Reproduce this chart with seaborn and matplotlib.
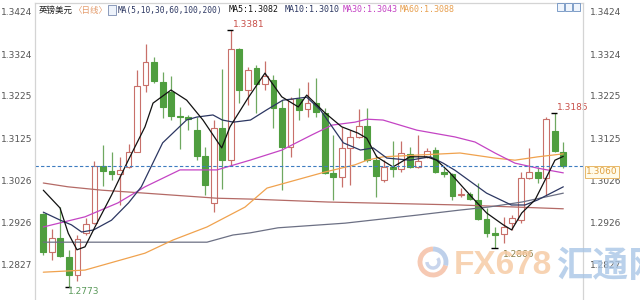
import matplotlib
matplotlib.use("Agg")
import matplotlib.pyplot as plt
import seaborn as sns
import pandas as pd
from matplotlib.patches import Rectangle, Ellipse, Arc

# ---------------- data ----------------
opens = [1.2945, 1.2855, 1.2890, 1.2845, 1.2801, 1.2900, 1.2924, 1.3060, 1.3047, 1.3040,
         1.3058, 1.3093, 1.3251, 1.3305, 1.3259, 1.3235, 1.3178, 1.3176, 1.3144, 1.3083,
         1.2972, 1.3148, 1.3073, 1.3335, 1.3239, 1.3290, 1.3253, 1.3263, 1.3196, 1.3105,
         1.3217, 1.3193, 1.3208, 1.3185, 1.3042, 1.3034, 1.3101, 1.3127, 1.3154, 1.3073,
         1.3026, 1.3058, 1.3051, 1.3088, 1.3058, 1.3080, 1.3097, 1.3046, 1.3040, 1.2991,
         1.2993, 1.2979, 1.2934, 1.2900, 1.2898, 1.2924, 1.2932, 1.3030, 1.3046, 1.3030,
         1.3142, 1.3093]
highs = [1.2949, 1.2910, 1.2962, 1.2860, 1.2896, 1.2936, 1.3072, 1.3109, 1.3093, 1.3080,
         1.3111, 1.3286, 1.3348, 1.3316, 1.3282, 1.3271, 1.3198, 1.3180, 1.3176, 1.3105,
         1.3168, 1.3288, 1.3381, 1.3338, 1.3294, 1.3298, 1.3308, 1.3275, 1.3215, 1.3223,
         1.3243, 1.3259, 1.3267, 1.3196, 1.3133, 1.3152, 1.3144, 1.3193, 1.3196, 1.3085,
         1.3073, 1.3119, 1.3119, 1.3105, 1.3133, 1.3101, 1.3105, 1.3054, 1.3043, 1.3007,
         1.2998, 1.3018, 1.2959, 1.2916, 1.2939, 1.2943, 1.3046, 1.3101, 1.3058, 1.3175,
         1.3185, 1.3117]
lows = [1.2849, 1.2837, 1.2844, 1.2773, 1.2786, 1.2896, 1.2922, 1.3013, 1.3026, 1.2967,
        1.3054, 1.3092, 1.3235, 1.3255, 1.3172, 1.3168, 1.3099, 1.3144, 1.3073, 1.2991,
        1.2951, 1.3004, 1.3062, 1.3208, 1.3204, 1.3184, 1.3239, 1.3148, 1.3002, 1.3081,
        1.3168, 1.3176, 1.3176, 1.3040, 1.2979, 1.3010, 1.3014, 1.3125, 1.3069, 1.2987,
        1.3022, 1.3034, 1.3046, 1.3054, 1.3054, 1.3077, 1.3042, 1.3034, 1.2979, 1.2987,
        1.2979, 1.2931, 1.2892, 1.2866, 1.2876, 1.2908, 1.2925, 1.3028, 1.3018, 1.2991,
        1.3093, 1.3054]
closes = [1.2855, 1.2890, 1.2846, 1.2801, 1.2886, 1.2921, 1.3060, 1.3048, 1.3040, 1.3050,
          1.3093, 1.3249, 1.3305, 1.3260, 1.3200, 1.3178, 1.3175, 1.3170, 1.3083, 1.3014,
          1.3148, 1.3073, 1.3335, 1.3239, 1.3286, 1.3253, 1.3271, 1.3196, 1.3105, 1.3217,
          1.3192, 1.3208, 1.3186, 1.3043, 1.3034, 1.3101, 1.3127, 1.3154, 1.3073, 1.3036,
          1.3058, 1.3051, 1.3089, 1.3058, 1.3072, 1.3095, 1.3046, 1.3040, 1.2988, 1.2993,
          1.2980, 1.2935, 1.2901, 1.2896, 1.2914, 1.2936, 1.3030, 1.3046, 1.3030, 1.3170,
          1.3095, 1.3060]

ma5_x = [0, 1.96, 2.93, 3.95, 4.89, 6.06, 8.02, 9.97, 11.93, 12.87, 14.98, 16.82, 18.73,
         19.9, 20.93, 21.9, 24.01, 26.0, 27.97, 29.91, 30.9, 33.04, 35.0, 36.92, 37.94,
         39.11, 41.02, 43.01, 44.97, 46.15, 47.71, 50.25, 52.01, 53.96, 54.94, 56.12,
         57.68, 58.86, 60.02, 61]
ma5_y = [1.3002, 1.2960, 1.2900, 1.2861, 1.2868, 1.2915, 1.2991, 1.3073, 1.3152, 1.3208,
         1.3239, 1.3215, 1.3168, 1.3133, 1.3102, 1.3152, 1.3220, 1.3279, 1.3223, 1.3199,
         1.3227, 1.3185, 1.3152, 1.3137, 1.3125, 1.3081, 1.3057, 1.3081, 1.3081, 1.3073,
         1.3043, 1.2986, 1.2948, 1.2920, 1.2908, 1.2948, 1.2979, 1.3026, 1.3073, 1.3082]
ma10_x = [0, 2, 3.3, 4.5, 5.9, 8, 10, 11.5, 14, 16.8, 18, 19.9, 21, 22.3, 24.3, 26.2, 28.1,
          30.9, 32.5, 35.2, 37.2, 38.7, 40.3, 43, 45.4, 46.9, 48.3, 52, 54.9, 56.5, 58, 61]
ma10_y = [1.2950, 1.2931, 1.2920, 1.2903, 1.2908, 1.2931, 1.2972, 1.3010, 1.3114, 1.3168,
          1.3175, 1.3180, 1.3168, 1.3163, 1.3168, 1.3192, 1.3215, 1.3222, 1.3192, 1.3114,
          1.3097, 1.3102, 1.3078, 1.3073, 1.3081, 1.3066, 1.3049, 1.2995, 1.2967, 1.2967,
          1.2979, 1.3010]
ma30_x = [0, 4.89, 8.76, 11.93, 16.03, 20.37, 24.25, 28.0, 31.52, 33.87, 36.56, 37.97,
          39.85, 43.83, 48.29, 50.64, 52.98, 55.33, 58.03, 61]
ma30_y = [1.2915, 1.2939, 1.2972, 1.3010, 1.3050, 1.3050, 1.3073, 1.3097, 1.3133, 1.3156,
          1.3163, 1.3170, 1.3168, 1.3144, 1.3128, 1.3116, 1.3090, 1.3066, 1.3054, 1.3043]
ma60_x = [0, 4.89, 11.93, 15.2, 19.2, 23.66, 26.24, 33.04, 36.56, 37.97, 39.85, 43.83,
          48.88, 52.98, 55.33, 58.03, 61]
ma60_y = [1.2808, 1.2813, 1.2853, 1.2884, 1.2915, 1.2962, 1.3007, 1.3045, 1.3062, 1.3073,
          1.3081, 1.3085, 1.3090, 1.3078, 1.3073, 1.3081, 1.3088]
ma100_x = [0, 11.93, 19.2, 22.25, 24.25, 27.53, 35.39, 43.83, 48.88, 52.17, 56.15, 61]
ma100_y = [1.2879, 1.2879, 1.2879, 1.2896, 1.2901, 1.2913, 1.2924, 1.2943, 1.2955, 1.2962,
           1.2974, 1.2995]
ma200_x = [0, 2.9, 6.88, 11.93, 20.37, 24.25, 33.4, 48.88, 61]
ma200_y = [1.3019, 1.3010, 1.3002, 1.2995, 1.2983, 1.2981, 1.2974, 1.2967, 1.2958]

y_ticks = [1.3424, 1.3324, 1.3225, 1.3125, 1.3026, 1.2926, 1.2827]
last_price = 1.3060
header_names = ["MA5", "MA10", "MA30", "MA60"]
header_values = [1.3082, 1.3010, 1.3043, 1.3088]

# ---------------- style ----------------
sns.set_theme(style="white")
plt.rcParams["font.family"] = ["DejaVu Sans", "Noto Sans CJK SC"]

W, H = 640, 300
fig = plt.figure(figsize=(6.4, 3.0), dpi=100)
fig.patch.set_facecolor("white")
ax = fig.add_axes([35 / W, 0, (583 - 35) / W, 297 / H])

up_col = "#c8706a"
dn_col = "#4f9e3f"
dn_wick = "#6fa860"
bw = 0.68

for i, (o, h, l, c) in enumerate(zip(opens, highs, lows, closes)):
    up = c >= o
    col = up_col if up else dn_col
    ax.vlines(i, l, h, color=(up_col if up else dn_wick), lw=0.9, zorder=1)
    lo, hi = min(o, c), max(o, c)
    if hi - lo < 0.00008:
        ax.hlines(lo, i - bw / 2, i + bw / 2, color=col, lw=1.2, zorder=2)
    else:
        ax.add_patch(Rectangle((i - bw / 2, lo), bw, hi - lo,
                               facecolor=("white" if up else dn_col),
                               edgecolor=col, lw=0.8, zorder=2))

ma_colors = {"MA5": "#111111", "MA10": "#2c3762", "MA30": "#c444c4",
             "MA60": "#f0a24e", "MA100": "#6c7084", "MA200": "#b46a66"}
frames = []
for name, xs, ys in [("MA200", ma200_x, ma200_y), ("MA100", ma100_x, ma100_y),
                     ("MA60", ma60_x, ma60_y), ("MA30", ma30_x, ma30_y),
                     ("MA10", ma10_x, ma10_y), ("MA5", ma5_x, ma5_y)]:
    frames.append(pd.DataFrame({"idx": xs, "price": ys, "ma": name}))
df_ma = pd.concat(frames, ignore_index=True)
sns.lineplot(data=df_ma, x="idx", y="price", hue="ma", palette=ma_colors,
             estimator=None, legend=False, ax=ax, linewidth=0.9)
for ln in ax.lines:
    ln.set_zorder(3)

ax.axhline(last_price, color="#3d7cc0", lw=0.8, ls=(0, (3, 2)), zorder=4)

# watermark (drawn under the labels)
fig.patches.append(Arc((433 / W, 1 - 262 / H), 26 / W, 26 / H, theta1=90, theta2=330,
                       transform=fig.transFigure, edgecolor="#f4b79a", lw=3.5, alpha=0.75))
fig.patches.append(Arc((433 / W, 1 - 262 / H), 26 / W, 26 / H, theta1=-30, theta2=90,
                       transform=fig.transFigure, edgecolor="#a9c1e4", lw=3.5, alpha=0.75))
fig.patches.append(Arc((433 / W, 1 - 262 / H), 12 / W, 12 / H, theta1=180, theta2=420,
                       transform=fig.transFigure, edgecolor="#b7c8e6", lw=2.5, alpha=0.75))
fig.text(454 / W, 1 - 266 / H, "FX678", fontsize=24, color="#f6c9a0", alpha=0.8,
         fontweight="bold", ha="left", va="center",
         family=["Liberation Sans Narrow", "Liberation Sans", "DejaVu Sans"])
fig.text(556 / W, 1 - 266 / H, "汇通网", fontsize=26, color="#a9c6e6", alpha=0.8,
         fontweight="bold", ha="left", va="center",
         family=["Noto Sans CJK SC", "DejaVu Sans"])

# extreme markers / labels
def mark(i, val, dx, dy, color):
    ax.hlines(val, i - 0.45, i + 0.3, color="black", lw=1.0, zorder=5)
    ax.text(i + dx, val + dy, f"{val:.4f}", color=color, fontsize=6.5,
            ha="left", va="center", zorder=6)

i_max = highs.index(max(highs))
i_min = lows.index(min(lows))
mark(i_max, highs[i_max], 0.25, 0.0013, "#c8504a")
mark(i_min, lows[i_min], -0.1, -0.0010, "#5b9a5b")
mark(53, lows[53], 0.9, -0.0016, "#8a7f48")
mark(60, highs[60], 0.2, 0.0013, "#c8504a")

ax.set_xlim(-0.974, 63.31)
ax.set_ylim(1.27422, 1.34449)
ax.set_xticks([])
ax.set_yticks(y_ticks)
ax.set_yticklabels([f"{v:.4f}" for v in y_ticks])
ax.tick_params(axis="y", length=0, pad=2, labelsize=6.5, labelcolor="#555555")
ax.set_xlabel("")
ax.set_ylabel("")
ax2 = ax.twinx()
ax2.set_ylim(ax.get_ylim())
ax2.set_yticks(y_ticks)
ax2.set_yticklabels([f"{v:.4f}" for v in y_ticks])
ax2.tick_params(axis="y", length=0, pad=5, labelsize=6.5, labelcolor="#555555")
for a in (ax, ax2):
    for s in a.spines.values():
        s.set_color("#d4d4d4")
        s.set_linewidth(0.8)
    a.spines["bottom"].set_visible(False)

# right price box
fig.text(586 / W, 1 - 172 / H, f"{last_price:.4f}", fontsize=6.5, color="#e0a040",
         ha="left", va="center",
         bbox=dict(boxstyle="square,pad=0.15", facecolor="#fffbea", edgecolor="#e8b868", lw=0.7))

# header
hy = 1 - 10 / H
fig.text(39 / W, hy, "英镑美元", fontsize=6.1, color="#222222", va="center",
         family=["Noto Sans CJK SC", "DejaVu Sans"])
fig.text(73 / W, hy, "〈日线〉", fontsize=6.1, color="#e39a6a", va="center",
         family=["Noto Sans CJK SC", "DejaVu Sans"])
fig.patches.append(Rectangle((108 / W, hy - 4.5 / H), 8 / W, 9 / H, transform=fig.transFigure,
                             facecolor="#eef3fb", edgecolor="#7a8cb0", lw=0.6))
fig.text(118 / W, hy, "MA(5,10,30,60,100,200)", fontsize=5.7, color="#2c3762", va="center",
         family="DejaVu Sans Mono")
hx = [229, 285, 343, 400]
hcol = ["#111111", "#2c3762", "#c444c4", "#e8a050"]
for x0, nm, v, c in zip(hx, header_names, header_values, hcol):
    fig.text(x0 / W, hy, f"{nm}:{v:.4f}", fontsize=6.0, color=c, va="center",
             family="DejaVu Sans Mono")
for k in range(3):
    fig.patches.append(Rectangle(((557 + 8 * k) / W, 1 - 11 / H), 7 / W, 8 / H,
                                 transform=fig.transFigure, facecolor="#eef4fc",
                                 edgecolor="#6b8fc0", lw=0.6))

fig.savefig("out.png", dpi=100, facecolor="white")
